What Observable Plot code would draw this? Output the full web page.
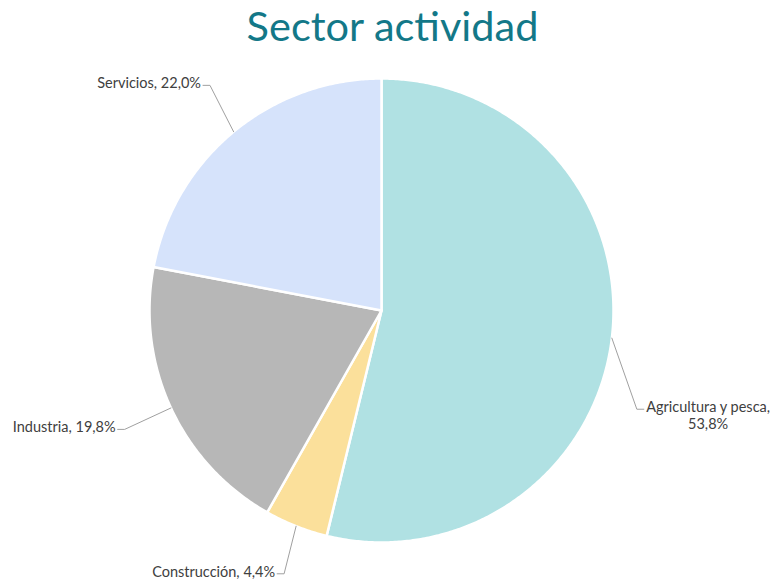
<!DOCTYPE html>
<html><head><meta charset="utf-8">
<script src="https://cdn.jsdelivr.net/npm/d3@7"></script>
<script src="https://cdn.jsdelivr.net/npm/@observablehq/plot@0.6"></script>
<style>
body{margin:0;background:#fff;}
#title{width:773px;height:60px;margin:0;font:400 41.5px Lato, sans-serif;color:#137888;text-align:center;box-sizing:border-box;padding-top:5px;padding-left:12px;line-height:1;}
#chart svg{display:block;}
</style></head>
<body>
<div id="title">Sector actividad</div>
<div id="chart"></div>
<script>
// ---- data ----
const categories = ["Agricultura y pesca", "Construcción", "Industria", "Servicios"];
const shares = [53.8, 4.4, 19.8, 22.0];

// ---- style / layout options ----
const colors = ["#b0e1e3", "#fbe09b", "#b7b7b7", "#d6e3fb"];
const wrapAfterName = new Set(["Agricultura y pesca"]);
const labelNudgeDeg = {"Agricultura y pesca": 14.3, "Construcción": -1.3, "Industria": 0, "Servicios": 2.3};
const labelRadius = {"Agricultura y pesca": 1.18, "Construcción": 1.21, "Industria": 1.22, "Servicios": 1.22};
const W = 773, H = 520;
const cx = 381, cy = 250, R = 232;          // pixel centre (in svg) and radius
const tickPx = 7, gapPx = 2, fontPx = 14.5;

const xDomain = [-cx / R, (W - cx) / R];
const yDomain = [-(H - cy) / R, cy / R];

const fmt = v => v.toFixed(1).replace(".", ",") + "%";
const arcs = d3.pie().sort(null).value(d => d)(shares);

// slice outlines
const slicePts = [];
arcs.forEach((p, i) => {
  const cat = categories[i];
  slicePts.push({cat, x: 0, y: 0});
  const n = Math.max(2, Math.ceil((p.endAngle - p.startAngle) / (Math.PI / 360)));
  for (let k = 0; k <= n; k++) {
    const a = p.startAngle + (p.endAngle - p.startAngle) * k / n;
    slicePts.push({cat, x: Math.sin(a), y: Math.cos(a)});
  }
  slicePts.push({cat, x: 0, y: 0});
});

// labels + leader lines
const ctx = document.createElement("canvas").getContext("2d");
ctx.font = `${fontPx}px Lato`;
const leaderPts = [], labelRows = [];
arcs.forEach((p, i) => {
  const cat = categories[i];
  const mid = (p.startAngle + p.endAngle) / 2;
  const la = mid + (labelNudgeDeg[cat] || 0) * Math.PI / 180;
  const er = labelRadius[cat] || 1.21;
  const ex = Math.sin(la) * er, ey = Math.cos(la) * er;
  const side = Math.sin(la) >= 0 ? 1 : -1;
  const tx = ex + side * tickPx / R;
  leaderPts.push({cat, x: Math.sin(mid), y: Math.cos(mid)});
  leaderPts.push({cat, x: ex, y: ey});
  leaderPts.push({cat, x: tx, y: ey});
  const text = wrapAfterName.has(cat) ? `${cat},\n${fmt(shares[i])}` : `${cat}, ${fmt(shares[i])}`;
  const w = d3.max(text.split("\n"), s => ctx.measureText(s).width);
  labelRows.push({cat, text, x: tx + side * (gapPx + w / 2) / R, y: ey});
});

const chart = Plot.plot({
  width: W, height: H,
  margin: 0,
  x: {domain: xDomain, axis: null},
  y: {domain: yDomain, axis: null},
  color: {domain: categories, range: colors},
  style: {fontFamily: "Lato, sans-serif", fontSize: fontPx + "px", background: "#fff"},
  marks: [
    Plot.line(slicePts, {x: "x", y: "y", z: "cat", fill: "cat", stroke: "#ffffff", strokeWidth: 2.5, strokeLinejoin: "round", curve: "linear"}),
    Plot.line(leaderPts, {x: "x", y: "y", z: "cat", stroke: "#a0a0a0", strokeWidth: 1, curve: "linear"}),
    Plot.text(labelRows, {x: "x", y: "y", text: "text", textAnchor: "middle", lineAnchor: "top", dy: -9, lineHeight: 1.15, fill: "#404040", fontSize: fontPx})
  ]
});
document.getElementById("chart").appendChild(chart);
</script>
</body></html>
